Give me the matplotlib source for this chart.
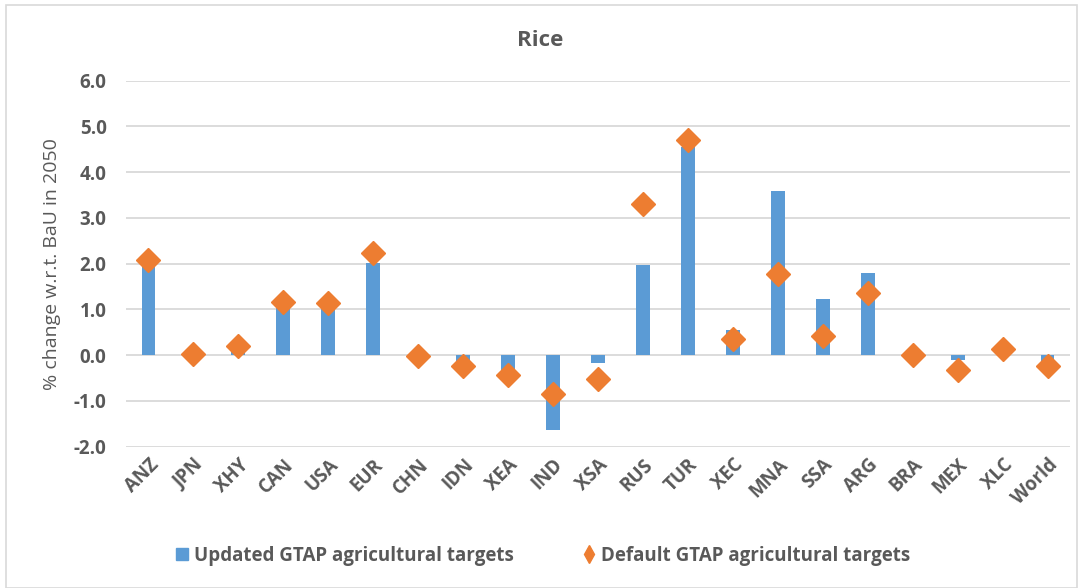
import matplotlib as mpl

mpl.use("Agg")

import matplotlib.pyplot as plt
import numpy as np
from matplotlib.lines import Line2D
from matplotlib.patches import Rectangle

regions = ["ANZ", "JPN", "XHY", "CAN", "USA", "EUR", "CHN", "IDN", "XEA", "IND", "XSA",
           "RUS", "TUR", "XEC", "MNA", "SSA", "ARG", "BRA", "MEX", "XLC", "World"]
updated = [2.02, 0.00, 0.10, 1.10, 1.07, 2.01, 0.00, -0.17, -0.36, -1.64, -0.17,
           1.97, 4.56, 0.55, 3.58, 1.23, 1.80, 0.00, -0.11, 0.22, -0.37]
default = [2.09, 0.03, 0.21, 1.17, 1.14, 2.23, -0.02, -0.24, -0.43, -0.84, -0.51,
           3.30, 4.71, 0.36, 1.78, 0.43, 1.37, 0.00, -0.33, 0.14, -0.23]
y_ticks = [-2.0, -1.0, 0.0, 1.0, 2.0, 3.0, 4.0, 5.0, 6.0]

BLUE = "#5B9BD5"
ORANGE = "#ED7D31"
TEXT = "#595959"
GRID = "#D9D9D9"

plt.rcParams["font.family"] = ["Open Sans", "DejaVu Sans"]

fig = plt.figure(figsize=(10.81, 5.88), dpi=100)
ax = fig.add_axes([126 / 1081, 1 - 446.7 / 588, (1070 - 126) / 1081, (446.7 - 80.7) / 588])

x = np.arange(len(regions))
ax.bar(x, updated, width=0.31, color=BLUE, zorder=2)
ax.plot(x, default, linestyle="none", marker="D", markersize=12, color=ORANGE,
        markeredgecolor=ORANGE, zorder=3)

ax.set_xlim(-0.5, len(regions) - 0.5)
ax.set_ylim(y_ticks[0], y_ticks[-1])
ax.set_yticks(y_ticks, [f"{v:.1f}" for v in y_ticks])
ax.set_xticks(x, regions, rotation=45, ha="right", rotation_mode="anchor")
ax.tick_params(length=0, colors=TEXT, labelsize=13.5)
ax.tick_params(axis="y", pad=14)
ax.tick_params(axis="x", pad=6)
for lab in ax.get_xticklabels() + ax.get_yticklabels():
    lab.set_fontweight("bold")
ax.grid(axis="y", color=GRID, linewidth=1.3, zorder=0)
ax.set_axisbelow(True)
for spine in ax.spines.values():
    spine.set_visible(False)

ax.set_ylabel("% change w.r.t. BaU in 2050", color=TEXT, fontsize=14, labelpad=9)
fig.text(0.5, 1 - 40 / 588, "Rice", ha="center", va="center", fontsize=16,
         fontweight="bold", color=TEXT)

handles = [
    Line2D([], [], linestyle="none", marker="s", markersize=8, color=BLUE),
    Line2D([], [], linestyle="none", marker="d", markersize=9, color=ORANGE),
]
fig.legend(handles, ["Updated GTAP agricultural targets", "Default GTAP agricultural targets"],
           loc="center", bbox_to_anchor=(0.5, 1 - 556 / 588), ncol=2, frameon=False,
           labelcolor=TEXT, handletextpad=0.05, handlelength=1.2, columnspacing=3.4,
           prop={"weight": "bold", "size": 13.5})

fig.add_artist(Rectangle((6 / 1081, 0), 1 - 10 / 1081, 1 - 5 / 588, transform=fig.transFigure,
                         fill=False, edgecolor=GRID, linewidth=1.2))

fig.savefig("out.png", dpi=100, facecolor="white")
